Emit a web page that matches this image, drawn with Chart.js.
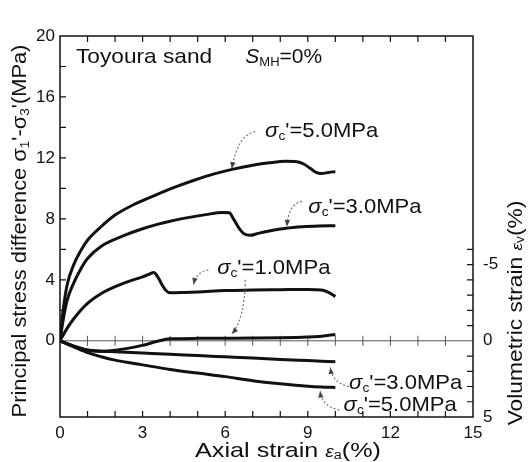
<!DOCTYPE html>
<html>
<head>
    <title>Toyoura sand triaxial test</title>
    <script src="https://cdn.jsdelivr.net/npm/chart.js"></script>
    <style>
        body { margin: 0; background: #fff; }
        #wrap { width: 529px; height: 462px; }
    </style>
</head>
<body>
    <div id="wrap">
        <canvas id="triaxChart" width="529" height="462"></canvas>
    </div>

    <script>
        // stress-strain curves (axial strain %, deviator stress MPa)
        const s5Strain = [0, 0.1, 0.25, 0.5, 0.75, 1.0, 1.5, 2.0, 2.75, 3.45, 4.2, 4.9, 5.6, 6.25, 7.0, 7.6, 8.2, 8.6, 8.85, 9.1, 9.3, 9.5, 9.75, 10.0];
        const s5Stress = [0, 1.8, 3.6, 5.0, 5.9, 6.6, 7.5, 8.25, 9.0, 9.55, 10.1, 10.55, 10.95, 11.25, 11.52, 11.68, 11.78, 11.75, 11.6, 11.3, 11.05, 10.98, 11.05, 11.1];

        const s3Strain = [0, 0.1, 0.25, 0.5, 0.75, 1.0, 1.5, 2.25, 3.0, 3.5, 4.0, 4.7, 5.3, 5.9, 6.15, 6.3, 6.5, 6.7, 6.9, 7.2, 7.6, 8.2, 8.8, 9.4, 10.0];
        const s3Stress = [0, 1.2, 2.6, 3.8, 4.7, 5.4, 6.2, 6.85, 7.35, 7.62, 7.85, 8.1, 8.28, 8.42, 8.4, 8.0, 7.4, 7.0, 6.92, 7.05, 7.2, 7.38, 7.48, 7.53, 7.55];

        const s1Strain = [0, 0.25, 0.5, 1.0, 1.5, 2.0, 2.5, 3.0, 3.25, 3.4, 3.55, 3.7, 3.85, 4.0, 4.5, 5.0, 6.0, 7.0, 8.0, 9.0, 9.5, 9.75, 10.0];
        const s1Stress = [0, 0.8, 1.45, 2.45, 3.1, 3.55, 3.9, 4.2, 4.38, 4.48, 4.2, 3.7, 3.3, 3.15, 3.17, 3.2, 3.3, 3.33, 3.35, 3.37, 3.33, 3.18, 2.9];

        // volumetric strain curves (axial strain %, volumetric strain %)
        const v1Strain = [0, 0.5, 1.0, 1.5, 2.0, 2.5, 3.0, 3.5, 4.0, 5.0, 6.0, 7.0, 8.0, 9.0, 9.5, 10.0];
        const v1Vol = [0, 0.35, 0.62, 0.68, 0.62, 0.48, 0.3, 0.05, -0.13, -0.16, -0.17, -0.18, -0.2, -0.25, -0.3, -0.42];

        const v3Strain = [0, 0.5, 1.0, 1.5, 2.0, 3.0, 4.0, 5.0, 6.0, 7.0, 8.0, 9.0, 10.0];
        const v3Vol = [0, 0.35, 0.6, 0.68, 0.72, 0.8, 0.88, 0.97, 1.05, 1.13, 1.22, 1.3, 1.38];

        const v5Strain = [0, 0.5, 1.0, 1.5, 2.0, 3.0, 4.0, 5.0, 6.0, 7.0, 8.0, 9.0, 9.5, 10.0];
        const v5Vol = [0, 0.4, 0.78, 1.05, 1.27, 1.58, 1.88, 2.12, 2.35, 2.62, 2.82, 2.98, 3.03, 3.06];

        // tick labels and tick marks
        const xTickLabels = [0, 3, 6, 9, 12, 15];
        const xMinorTicks = [1, 2, 3, 4, 5, 6, 7, 8, 9, 10, 11, 12, 13, 14];
        const yTickLabels = [0, 4, 8, 12, 16, 20];
        const yMinorTicks = [2, 4, 6, 8, 10, 12, 14, 16, 18];
        const y2TickLabels = [-5, 0, 5];
        const y2MinorTicks = [-6, -5, -4, -3, -2, -1, 1, 2, 3, 4];

        const FONT = 'Arial, "Liberation Sans", sans-serif';
        const INK = '#111';

        // draw a row of text pieces (normal / subscript / italic), optionally stretched sideways
        function richText(ctx, parts, x, y, align, stretch) {
            const sx = stretch || 1;
            let total = 0;
            parts.forEach(p => { ctx.font = p.font; total += ctx.measureText(p.t).width; });
            ctx.save();
            ctx.translate(align === 'center' ? x - total * sx / 2 : x, y);
            ctx.scale(sx, 1);
            ctx.textBaseline = 'alphabetic';
            ctx.textAlign = 'left';
            let cx = 0;
            parts.forEach(p => {
                ctx.font = p.font;
                ctx.fillText(p.t, cx, p.dy || 0);
                cx += ctx.measureText(p.t).width;
            });
            ctx.restore();
        }

        function sigmaLabel(value) {
            return [
                { t: 'σ', font: 'italic 21px ' + FONT },
                { t: 'c', font: '13px ' + FONT, dy: 3 },
                { t: "'=" + value + 'MPa', font: '21px ' + FONT }
            ];
        }

        // labels and dotted arrows, in strain / stress units
        const curveLabels = [
            { x: 7.45, y: 13.4, v: '5.0' },
            { x: 9.02, y: 8.4, v: '3.0' },
            { x: 5.71, y: 4.4, v: '1.0' },
            { x: 10.5, y: -3.15, v: '3.0' },
            { x: 10.3, y: -4.6, v: '5.0' }
        ];
        const arrows = [
            { from: [7.09, 13.73], ctrl: [6.45, 13.5], to: [6.24, 11.3] },
            { from: [8.79, 9.15], ctrl: [8.3, 9.0], to: [8.24, 7.5] },
            { from: [5.39, 4.65], ctrl: [4.95, 4.5], to: [4.85, 3.7] },
            { from: [6.73, 4.0], ctrl: [6.7, 1.4], to: [6.24, 0.45] },
            { from: [10.5, -3.0], ctrl: [9.9, -2.8], to: [9.82, -1.75] },
            { from: [10.15, -4.55], ctrl: [9.5, -4.3], to: [9.45, -3.3] }
        ];

        const framePlugin = {
            id: 'frame',
            beforeDatasetsDraw(chart) {
                const { ctx, chartArea: a, scales } = chart;
                const y0 = scales.y.getPixelForValue(0);
                ctx.save();
                ctx.strokeStyle = '#555';
                ctx.lineWidth = 1;
                ctx.beginPath();
                ctx.moveTo(a.left, y0);
                ctx.lineTo(a.right, y0);
                xMinorTicks.forEach(v => {
                    const px = scales.x.getPixelForValue(v);
                    ctx.moveTo(px, y0 - 5);
                    ctx.lineTo(px, y0 + 5);
                });
                ctx.stroke();
                ctx.restore();
            },
            afterDatasetsDraw(chart) {
                const { ctx, chartArea: a, scales } = chart;
                const t = 6;
                ctx.save();
                ctx.strokeStyle = INK;
                ctx.lineWidth = 1.5;
                ctx.strokeRect(a.left, a.top, a.right - a.left, a.bottom - a.top);
                ctx.lineWidth = 1.2;
                ctx.beginPath();
                xMinorTicks.forEach(v => {
                    const px = scales.x.getPixelForValue(v);
                    ctx.moveTo(px, a.bottom); ctx.lineTo(px, a.bottom - t);
                    ctx.moveTo(px, a.top); ctx.lineTo(px, a.top + t);
                });
                yMinorTicks.forEach(v => {
                    const py = scales.y.getPixelForValue(v);
                    ctx.moveTo(a.left, py); ctx.lineTo(a.left + t, py);
                });
                y2MinorTicks.forEach(v => {
                    const py = scales.y2.getPixelForValue(v);
                    ctx.moveTo(a.right, py); ctx.lineTo(a.right - t, py);
                });
                ctx.stroke();

                // dotted leader arrows
                const P = (p) => [scales.x.getPixelForValue(p[0]), scales.y.getPixelForValue(p[1])];
                ctx.strokeStyle = '#777';
                ctx.fillStyle = '#444';
                ctx.lineWidth = 1.2;
                arrows.forEach(ar => {
                    const f = P(ar.from), c = P(ar.ctrl), e = P(ar.to);
                    ctx.setLineDash([2, 2]);
                    ctx.beginPath();
                    ctx.moveTo(f[0], f[1]);
                    ctx.quadraticCurveTo(c[0], c[1], e[0], e[1]);
                    ctx.stroke();
                    ctx.setLineDash([]);
                    const ang = Math.atan2(e[1] - c[1], e[0] - c[0]);
                    ctx.beginPath();
                    ctx.moveTo(e[0], e[1]);
                    ctx.lineTo(e[0] - 7 * Math.cos(ang - 0.4), e[1] - 7 * Math.sin(ang - 0.4));
                    ctx.lineTo(e[0] - 7 * Math.cos(ang + 0.4), e[1] - 7 * Math.sin(ang + 0.4));
                    ctx.closePath();
                    ctx.fill();
                });

                // curve labels
                ctx.fillStyle = INK;
                curveLabels.forEach(l => {
                    richText(ctx, sigmaLabel(l.v), scales.x.getPixelForValue(l.x), scales.y.getPixelForValue(l.y), 'left', 1.05);
                });

                // header texts
                richText(ctx, [{ t: 'Toyoura sand', font: '21px ' + FONT }],
                    scales.x.getPixelForValue(0.58), scales.y.getPixelForValue(18.2), 'left', 1.08);
                richText(ctx, [
                    { t: 'S', font: 'italic 21px ' + FONT },
                    { t: 'MH', font: '13px ' + FONT, dy: 3 },
                    { t: '=0%', font: '21px ' + FONT }
                ], scales.x.getPixelForValue(6.73), scales.y.getPixelForValue(18.2), 'left');

                // axis titles
                richText(ctx, [
                    { t: 'Axial strain ', font: '21px ' + FONT },
                    { t: 'ε', font: 'italic 16px ' + FONT },
                    { t: 'a', font: '12px ' + FONT, dy: 2 },
                    { t: '(%)', font: '21px ' + FONT }
                ], 288, 457, 'center', 1.2);

                ctx.save();
                ctx.translate(26, 231);
                ctx.rotate(-Math.PI / 2);
                richText(ctx, [
                    { t: 'Principal stress difference ', font: '21px ' + FONT },
                    { t: 'σ', font: '21px ' + FONT },
                    { t: '1', font: '13px ' + FONT, dy: 3 },
                    { t: "'-", font: '21px ' + FONT },
                    { t: 'σ', font: '21px ' + FONT },
                    { t: '3', font: '13px ' + FONT, dy: 3 },
                    { t: "'(MPa)", font: '21px ' + FONT }
                ], 0, 0, 'center', 1.04);
                ctx.restore();

                ctx.save();
                ctx.translate(522, 313);
                ctx.rotate(-Math.PI / 2);
                richText(ctx, [
                    { t: 'Volumetric strain ', font: '20px ' + FONT },
                    { t: 'ε', font: 'italic 15px ' + FONT },
                    { t: 'v', font: '12px ' + FONT, dy: 2 },
                    { t: '(%)', font: '20px ' + FONT }
                ], 0, 0, 'center', 1.14);
                ctx.restore();
                ctx.restore();
            }
        };

        function toPoints(xs, ys) {
            return xs.map((x, i) => ({ x: x, y: ys[i] }));
        }

        function curve(xs, ys, axis) {
            return {
                data: toPoints(xs, ys),
                yAxisID: axis,
                showLine: true,
                borderColor: INK,
                borderWidth: 3,
                pointRadius: 0,
                cubicInterpolationMode: 'monotone',
                fill: false
            };
        }

        const tickFont = { family: FONT, size: 17 };

        new Chart(document.getElementById('triaxChart').getContext('2d'), {
            type: 'scatter',
            data: {
                datasets: [
                    curve(s5Strain, s5Stress, 'y'),
                    curve(s3Strain, s3Stress, 'y'),
                    curve(s1Strain, s1Stress, 'y'),
                    curve(v1Strain, v1Vol, 'y2'),
                    curve(v3Strain, v3Vol, 'y2'),
                    curve(v5Strain, v5Vol, 'y2')
                ]
            },
            options: {
                responsive: false,
                animation: false,
                layout: { padding: { top: 36, left: 0, right: 0, bottom: 0 } },
                plugins: {
                    legend: { display: false },
                    tooltip: { enabled: false }
                },
                scales: {
                    x: {
                        type: 'linear',
                        min: 0,
                        max: 15,
                        afterBuildTicks: s => { s.ticks = xTickLabels.map(v => ({ value: v })); },
                        afterFit: s => { s.height = 45; },
                        grid: { display: false, drawTicks: false },
                        border: { display: false },
                        ticks: { color: INK, font: tickFont, padding: 6, maxRotation: 0 }
                    },
                    y: {
                        type: 'linear',
                        position: 'left',
                        min: -5,
                        max: 20,
                        afterBuildTicks: s => { s.ticks = yTickLabels.map(v => ({ value: v })); },
                        afterFit: s => { s.width = 60; },
                        grid: { display: false, drawTicks: false },
                        border: { display: false },
                        ticks: { color: INK, font: tickFont, padding: 5 }
                    },
                    y2: {
                        type: 'linear',
                        position: 'right',
                        reverse: true,
                        min: -20,
                        max: 5,
                        afterBuildTicks: s => { s.ticks = y2TickLabels.map(v => ({ value: v })); },
                        afterFit: s => { s.width = 56; },
                        grid: { display: false, drawTicks: false },
                        border: { display: false },
                        ticks: { color: INK, font: tickFont, padding: 10 }
                    }
                }
            },
            plugins: [framePlugin]
        });
    </script>
</body>
</html>
